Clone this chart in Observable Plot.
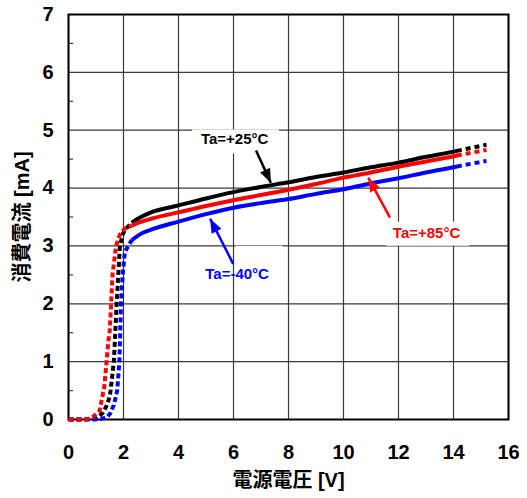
<!DOCTYPE html>
<html>
<head>
<meta charset="utf-8">
<script src="https://cdn.jsdelivr.net/npm/d3@7"></script>
<script src="https://cdn.jsdelivr.net/npm/@observablehq/plot@0.6"></script>
<style>
  html, body { margin: 0; padding: 0; background: #fff; }
  #chart { width: 527px; height: 498px; }
</style>
</head>
<body>
<div id="chart"></div>
<script>
// ---- data ----
const seriesNames = ["+25", "+85", "-40"];
const seriesColors = ["#000000", "#ff0000", "#0000ff"];

const voltsBlack = [0, 0.5, 0.9, 1.1, 1.25, 1.4, 1.5, 1.53, 1.65, 1.75, 1.87, 1.97, 2.05, 2.3, 2.6, 3, 4, 5, 6, 7, 8, 9, 10, 11, 12, 13, 14, 14.3, 15.2];
const currBlack  = [0, 0, 0.01, 0.05, 0.12, 0.25, 0.4, 0.5, 1.0, 2.0, 3.0, 3.2, 3.28, 3.4, 3.49, 3.58, 3.70, 3.82, 3.93, 4.02, 4.10, 4.19, 4.27, 4.36, 4.44, 4.54, 4.63, 4.66, 4.75];

const voltsRed = [0, 0.5, 0.7, 0.9, 1.13, 1.3, 1.38, 1.44, 1.5, 1.55, 1.6, 1.73, 1.87, 2.05, 2.3, 2.6, 3, 4, 5, 6, 7, 8, 9, 10, 11, 12, 13, 14, 14.3, 15.2];
const currRed  = [0, 0, 0.01, 0.05, 0.15, 0.56, 0.97, 1.31, 1.54, 2.0, 2.5, 3.0, 3.2, 3.3, 3.35, 3.41, 3.47, 3.58, 3.69, 3.79, 3.88, 3.97, 4.07, 4.18, 4.27, 4.37, 4.46, 4.55, 4.58, 4.66];

const voltsBlue = [0, 0.8, 1.2, 1.4, 1.51, 1.65, 1.77, 1.85, 1.91, 1.97, 2.05, 2.3, 2.6, 3, 4, 5, 6, 7, 8, 9, 10, 11, 12, 13, 14, 14.3, 15.2];
const currBlue  = [0, 0, 0.01, 0.04, 0.1, 0.25, 0.5, 1.0, 2.0, 2.5, 2.9, 3.1, 3.2, 3.28, 3.42, 3.55, 3.66, 3.74, 3.81, 3.9, 3.98, 4.08, 4.17, 4.27, 4.36, 4.39, 4.47];

const xTicks = [0, 2, 4, 6, 8, 10, 12, 14, 16];
const yTicks = [0, 1, 2, 3, 4, 5, 6, 7];
const yMinorTicks = [0.5, 1.5, 2.5, 3.5, 4.5, 5.5, 6.5];

const xTitle = "電源電圧 [V]";
const yTitle = "消費電流 [mA]";

const labelText = ["Ta=+25°C", "Ta=+85°C", "Ta=-40°C"];
const labelX = [6.04, 13.02, 6.13];
const labelY = [4.85, 3.22, 2.51];

const arrowTailX = [6.82, 11.69, 5.99];
const arrowTailY = [4.65, 3.49, 2.69];
const arrowTipX  = [7.36, 10.90, 5.15];
const arrowTipY  = [4.09, 4.18, 3.47];

// ---- build tables ----
const solidFrom = 2.3, solidTo = 14.3;
function rows(name, vs, is) {
  return vs.map((v, k) => ({series: name, v, i: is[k]}));
}
const allSeries = [
  rows("+25", voltsBlack, currBlack),
  rows("+85", voltsRed, currRed),
  rows("-40", voltsBlue, currBlue)
];
const lowPart = allSeries.flatMap(s => s.filter(d => d.v <= solidFrom));
const midPart = allSeries.flatMap(s => s.filter(d => d.v >= solidFrom && d.v <= solidTo));
const highPart = allSeries.flatMap(s => s.filter(d => d.v >= solidTo));

const labels = labelText.map((t, k) => ({t, x: labelX[k], y: labelY[k], series: seriesNames[k]}));

const W = 527, H = 498, ML = 68, MR = 19, MT = 14, MB = 79;
const kx = (W - ML - MR) / (xTicks[xTicks.length - 1] - xTicks[0]);
const ky = (H - MT - MB) / (yTicks[yTicks.length - 1] - yTicks[0]);
const arrows = arrowTailX.map((_, k) => {
  const dxp = (arrowTipX[k] - arrowTailX[k]) * kx;
  const dyp = -(arrowTipY[k] - arrowTailY[k]) * ky;
  return {
    series: seriesNames[k],
    x1: arrowTailX[k], y1: arrowTailY[k], x2: arrowTipX[k], y2: arrowTipY[k],
    angle: Math.atan2(dxp, -dyp) * 180 / Math.PI
  };
});

const arrowHead = {
  draw(ctx) {
    ctx.moveTo(0, 0);
    ctx.lineTo(5.5, 14);
    ctx.lineTo(-5.5, 14);
    ctx.closePath();
  }
};

const font = "'Liberation Sans', Arial, 'Noto Sans CJK JP', sans-serif";
const order = ["+25", "-40", "+85"];
const byOrder = (data) => order.flatMap(s => data.filter(d => d.series === s));

const chart = Plot.plot({
  width: W, height: H,
  marginLeft: ML, marginRight: MR, marginTop: MT, marginBottom: MB,
  style: {fontFamily: font, fontSize: "20px", fontWeight: "bold", color: "#000", background: "#fff"},
  x: {domain: [0, 16], ticks: xTicks, tickSize: 0, tickPadding: 25, label: null, tickFormat: d => String(d)},
  y: {domain: [0, 7], ticks: yTicks, tickSize: 0, tickPadding: 15, label: null, tickFormat: d => String(d)},
  color: {domain: seriesNames, range: seriesColors},
  marks: [
    Plot.ruleX(xTicks, {stroke: "#3a3a3a", strokeWidth: 1.2}),
    Plot.ruleY(yTicks, {stroke: "#3a3a3a", strokeWidth: 1.2}),
    Plot.ruleY(yMinorTicks, {x1: 0, x2: 0, insetRight: -5, stroke: "#3a3a3a", strokeWidth: 1.2}),
    // white boxes behind callout labels
    Plot.rect([labels[0]], {x1: "x", x2: "x", y1: "y", y2: "y", fill: "#fff", insetLeft: -42, insetRight: -45, insetTop: -9, insetBottom: -15}),
    Plot.rect([labels[1]], {x1: "x", x2: "x", y1: "y", y2: "y", fill: "#fff", insetLeft: -40, insetRight: -43, insetTop: -11, insetBottom: -13}),
    Plot.rect([labels[2]], {x1: "x", x2: "x", y1: "y", y2: "y", fill: "#fff", insetLeft: -1, insetRight: -46, insetTop: -28, insetBottom: -20}),
    Plot.frame({stroke: "#000", strokeWidth: 2}),
    Plot.line(byOrder(lowPart), {x: "v", y: "i", z: "series", stroke: "series", strokeWidth: 4, strokeDasharray: "5,3", strokeLinecap: "butt", curve: "linear"}),
    Plot.line(byOrder(midPart), {x: "v", y: "i", z: "series", stroke: "series", strokeWidth: 4, curve: "monotone-x", strokeLinecap: "butt"}),
    Plot.line(byOrder(highPart), {x: "v", y: "i", z: "series", stroke: "series", strokeWidth: 4, strokeDasharray: "5,4", strokeDashoffset: 5, strokeLinecap: "butt"}),
    Plot.link(arrows, {x1: "x1", y1: "y1", x2: "x2", y2: "y2", stroke: "series", strokeWidth: 2.5}),
    Plot.dot(arrows, {x: "x2", y: "y2", symbol: arrowHead, fill: "series", stroke: "none", rotate: "angle", r: 6}),
    Plot.text(labels, {x: "x", y: "y", text: "t", fill: "series", fontSize: 15, fontWeight: "bold", textAnchor: "middle", lineAnchor: "middle", fontFamily: font}),
    Plot.text([xTitle], {frameAnchor: "bottom", text: d => d, dy: 61, fontSize: 20, fontWeight: "bold", textAnchor: "middle", lineAnchor: "middle", fill: "#000"}),
    Plot.text([yTitle], {frameAnchor: "left", text: d => d, dx: -46, rotate: -90, fontSize: 20, fontWeight: "bold", textAnchor: "middle", lineAnchor: "middle", fill: "#000"})
  ]
});
document.getElementById("chart").appendChild(chart);
</script>
</body>
</html>
